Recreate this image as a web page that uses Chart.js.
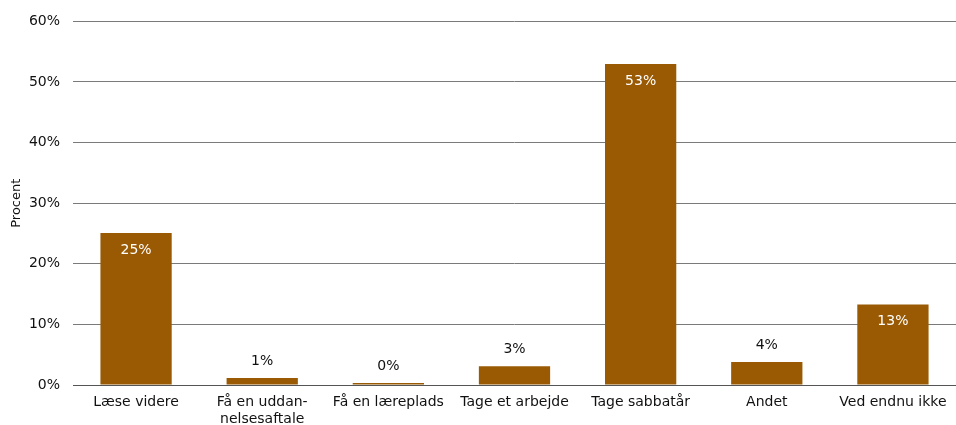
<!DOCTYPE html>
<html><head><meta charset="utf-8">
<script src="https://cdn.jsdelivr.net/npm/chart.js@4/dist/chart.umd.min.js"></script>
<style>html,body{margin:0;padding:0;background:#fff}#wrap{width:956px;height:425px}</style>
</head><body><div id="wrap"><canvas id="c" width="956" height="425"></canvas></div>
<script>
const categories = ["Læse videre", ["Få en uddan-", "nelsesaftale"], "Få en læreplads", "Tage et arbejde", "Tage sabbatår", "Andet", "Ved endnu ikke"];
const values = [25.1, 1.15, 0.33, 3.1, 52.95, 3.8, 13.3];
const valueLabels = ["25%", "1%", "0%", "3%", "53%", "4%", "13%"];
const yTicks = [0, 10, 20, 30, 40, 50, 60];

const FONT = "DejaVu Sans";
const labelPlugin = {
  id: 'vlabels',
  afterDatasetsDraw(chart) {
    const ctx = chart.ctx;
    const meta = chart.getDatasetMeta(0);
    ctx.save();
    ctx.font = "14px '" + FONT + "'";
    ctx.textAlign = 'center';
    ctx.textBaseline = 'middle';
    meta.data.forEach((bar, i) => {
      if (values[i] > 10) {
        ctx.fillStyle = '#ffffff';
        ctx.fillText(valueLabels[i], bar.x, bar.y + 17);
      } else {
        ctx.fillStyle = '#111111';
        ctx.fillText(valueLabels[i], bar.x, bar.y - 17);
      }
    });
    ctx.restore();
  }
};

new Chart(document.getElementById('c'), {
  type: 'bar',
  data: { labels: categories, datasets: [{ data: values, backgroundColor: '#9A5A04', borderWidth: 0, categoryPercentage: 1, barPercentage: 0.565 }] },
  options: {
    responsive: false, animation: false, devicePixelRatio: 1,
    layout: { padding: { top: 19, right: 0, left: 0, bottom: 0 } },
    plugins: { legend: { display: false }, tooltip: { enabled: false } },
    scales: {
      x: {
        grid: { display: false, drawTicks: false },
        border: { color: '#555', width: 1 },
        ticks: { color: '#111111', font: { family: FONT, size: 14 }, padding: 9, maxRotation: 0, autoSkip: false },
        afterFit(s) { s.height = 40; }
      },
      y: {
        min: 0, max: 60,
        afterBuildTicks(s) { s.ticks = yTicks.map(v => ({ value: v })); },
        grid: { color: '#7a7a7a', drawTicks: false, lineWidth: 1 },
        border: { display: false },
        ticks: { color: '#111111', font: { family: FONT, size: 14 }, padding: 13, callback: v => v + '%' },
        title: { display: true, text: 'Procent', color: '#111111', font: { family: FONT, size: 13 }, padding: { top: 9, bottom: 0 } },
        afterFit(s) { s.width = 73; }
      }
    }
  },
  plugins: [labelPlugin]
});
</script></body></html>
